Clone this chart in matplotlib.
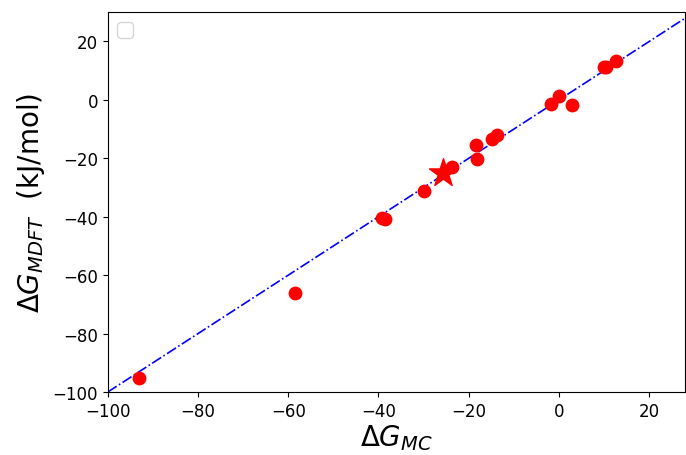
import numpy as np
import matplotlib.pyplot as plt

# valeurs
dg_mc = [-93.1, -58.6, -39.3, -38.6, -29.8, -23.8, -18.3, -18.1, -14.8, -13.8,
         -1.7, -0.1, 3.0, 9.9, 10.5, 12.7]
dg_mdft = [-95.2, -66.2, -40.5, -40.9, -31.3, -23.1, -15.6, -20.3, -13.5, -12.1,
           -1.5, 1.2, -1.9, 11.1, 11.3, 13.2]
star_mc = [-25.6]
star_mdft = [-25.1]
diag = [-100, 28]

fig, ax = plt.subplots(figsize=(6.86, 4.56), dpi=100)
ax.plot(diag, diag, color='blue', linestyle='-.', linewidth=1.2)
ax.scatter(dg_mc, dg_mdft, color='red', s=80, zorder=3)
ax.scatter(star_mc, star_mdft, color='red', marker='*', s=450, zorder=3)

ax.set_xlim(-100, 28)
ax.set_ylim(-100, 30)
ax.set_xticks([-100, -80, -60, -40, -20, 0, 20])
ax.set_yticks([-100, -80, -60, -40, -20, 0, 20])
ax.tick_params(labelsize=12)
ax.set_xlabel(r'$\Delta G_{MC}$', fontsize=20, labelpad=2)
ax.set_ylabel(r'$\Delta G_{MDFT}$  (kJ/mol)', fontsize=20)
ax.legend(handles=[], loc='upper left', fontsize=14)

plt.subplots_adjust(left=0.157, right=0.999, top=0.971, bottom=0.138)
plt.savefig('out.png')
